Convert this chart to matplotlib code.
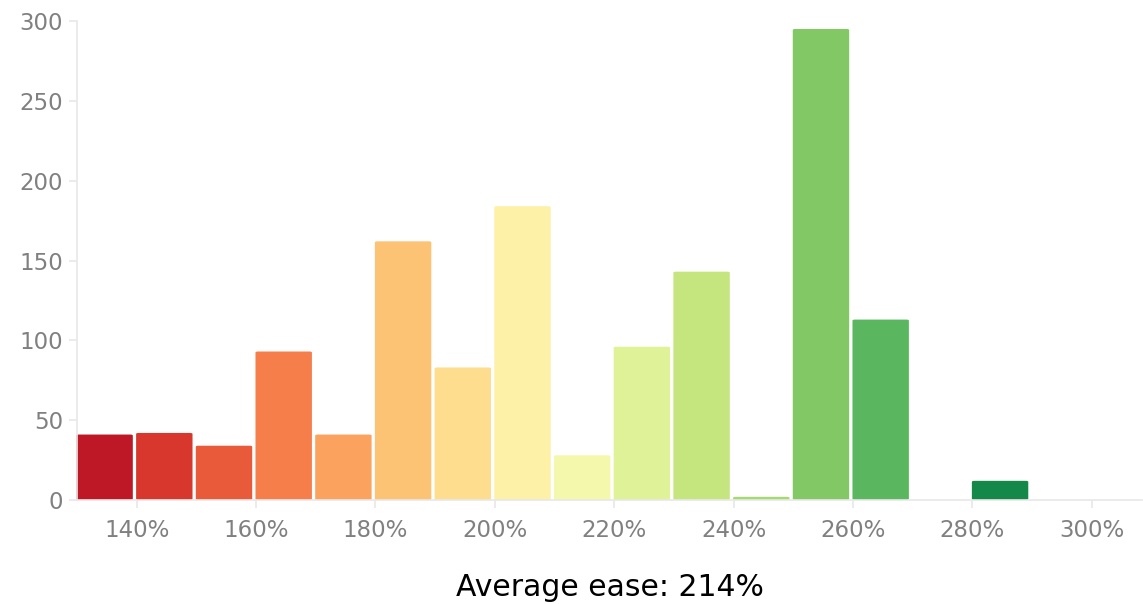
import numpy as np
import matplotlib
matplotlib.use('Agg')
import matplotlib.pyplot as plt
from matplotlib.colors import to_rgb
from matplotlib.patches import FancyBboxPatch

# ease buckets (left edge, %) and card counts
bucket_start = [130, 140, 150, 160, 170, 180, 190, 200, 210, 220, 230, 240, 250, 260, 270, 280, 290]
card_counts = [41, 42, 34, 93, 41, 162, 83, 184, 28, 96, 143, 2, 295, 113, 0, 12, 0]
x_ticks = [140, 160, 180, 200, 220, 240, 260, 280, 300]
y_ticks = [0, 50, 100, 150, 200, 250, 300]
average_ease = 214

# RdYlGn scheme, smoothed with a uniform B-spline (like d3's interpolateRdYlGn)
scheme = ['#a50026', '#d73027', '#f46d43', '#fdae61', '#fee08b', '#ffffbf',
          '#d9ef8b', '#a6d96a', '#66bd63', '#1a9850', '#006837']
scheme = np.array([to_rgb(c) for c in scheme])

def rdylgn(t):
    t = min(max(t, 0.0), 1.0)
    n = len(scheme) - 1
    i = n - 1 if t >= 1 else int(np.floor(t * n))
    v1 = scheme[i]
    v2 = scheme[i + 1]
    v0 = scheme[i - 1] if i > 0 else 2 * v1 - v2
    v3 = scheme[i + 2] if i < n - 1 else 2 * v2 - v1
    t1 = (t - i / n) * n
    t2 = t1 * t1
    t3 = t2 * t1
    c = ((1 - 3*t1 + 3*t2 - t3) * v0 + (4 - 6*t2 + 3*t3) * v1
         + (1 + 3*t1 + 3*t2 - 3*t3) * v2 + t3 * v3) / 6
    return tuple(np.clip(c, 0, 1))

fig = plt.figure(figsize=(11.43, 6.04), dpi=100)
ax = fig.add_axes([77/1143, 1 - 500/604, (1142-77)/1143, 479/604])

for start, count in zip(bucket_start, card_counts):
    if count <= 0:
        continue
    c = rdylgn((start - 121.5) / 170.0)
    ax.add_patch(FancyBboxPatch((start - 0.1, 0), 9.45, count,
                                boxstyle="round,pad=0,rounding_size=0.4",
                                mutation_aspect=1.6,
                                facecolor=c, edgecolor='none', clip_on=False))

ax.set_xlim(130, 308.4)
ax.set_ylim(0, 300)

grey = '#e8e8e8'
for side in ['top', 'right']:
    ax.spines[side].set_visible(False)
ax.spines['left'].set_color(grey)
ax.spines['bottom'].set_color(grey)
ax.spines['left'].set_linewidth(1.2)
ax.spines['bottom'].set_linewidth(1.2)

ax.set_xticks(x_ticks)
ax.set_xticklabels(['%d%%' % t for t in x_ticks])
ax.set_yticks(y_ticks)
ax.tick_params(axis='both', colors=grey, labelcolor='#808080', labelsize=16.5,
               length=6, width=1.2)
ax.tick_params(axis='x', pad=8)
ax.tick_params(axis='y', pad=4)

ax.set_xlabel('Average ease: %d%%' % average_ease, fontsize=21.5, color='black', labelpad=22)

fig.savefig('out.png', dpi=100)
